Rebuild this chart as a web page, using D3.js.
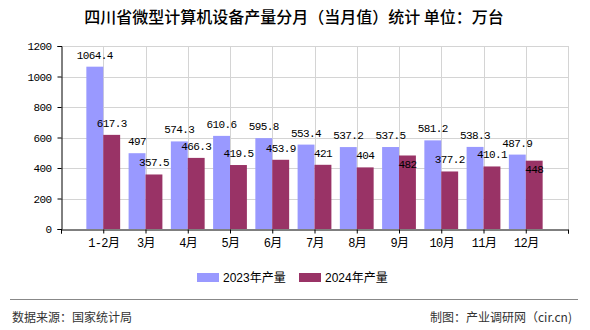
<!DOCTYPE html>
<html>
<head>
<meta charset="utf-8">
<script src="https://cdn.jsdelivr.net/npm/d3@7"></script>
<style>
  html, body { margin: 0; padding: 0; background: #fff; }
  svg { display: block; }
</style>
</head>
<body>
<div id="chart"></div>
<script>
// Monthly output, 10k units
const months = ["1-2月", "3月", "4月", "5月", "6月", "7月", "8月", "9月", "10月", "11月", "12月"];
const seriesNames = ["2023年产量", "2024年产量"];
const values2023 = [1064.4, 497, 574.3, 610.6, 595.8, 553.4, 537.2, 537.5, 581.2, 538.3, 487.9];
const values2024 = [617.3, 357.5, 466.3, 419.5, 453.9, 421, 404, 482, 377.2, 410.1, 448];
const yTicks = [0, 200, 400, 600, 800, 1000, 1200];
const colors = ["#9999FF", "#993366"];

const W = 590, H = 330;
const plot = { left: 61, right: 568, top: 46, bottom: 229 };
const monoFont = "'Liberation Mono', 'Noto Sans CJK SC', monospace";
const cjkFont = "'Noto Sans CJK SC', sans-serif";

const svg = d3.select("#chart").append("svg")
  .attr("width", W).attr("height", H);

// Title
svg.append("text")
  .attr("x", 294).attr("y", 23)
  .attr("text-anchor", "middle")
  .attr("font-family", cjkFont)
  .attr("font-size", 16)
  .attr("font-weight", 500)
  .attr("fill", "#000")
  .text("四川省微型计算机设备产量分月（当月值）统计 单位：万台");

// Scales: months sit on integer positions 1..11 of a 0..12 axis
const x = d3.scaleLinear().domain([0, months.length + 1]).range([plot.left, plot.right]);
const y = d3.scaleLinear().domain([0, 1200]).range([plot.bottom, plot.top]);
const step = x(1) - x(0);
const barW = step * 0.4;

// Grid
const grid = svg.append("g").attr("stroke", "#d4d4d4").attr("stroke-width", 1);
yTicks.filter(t => t > 0).forEach(t => {
  grid.append("line")
    .attr("x1", plot.left).attr("x2", plot.right)
    .attr("y1", Math.round(y(t)) + 0.5).attr("y2", Math.round(y(t)) + 0.5);
});
d3.range(1, months.length + 2).forEach(i => {
  grid.append("line")
    .attr("x1", Math.round(x(i)) + 0.5).attr("x2", Math.round(x(i)) + 0.5)
    .attr("y1", plot.top).attr("y2", plot.bottom);
});

// Bars
const seriesData = [values2023, values2024];
seriesData.forEach((vals, s) => {
  svg.append("g").selectAll("rect").data(vals).join("rect")
    .attr("x", (d, i) => s === 0 ? x(i + 1) - barW : x(i + 1))
    .attr("y", d => y(d))
    .attr("width", barW)
    .attr("height", d => y(0) - y(d))
    .attr("fill", colors[s]);
});

// Axes
const yAxis = d3.axisLeft(y).tickValues(yTicks).tickFormat(d3.format("d")).tickSize(4).tickPadding(6);
const gy = svg.append("g").attr("transform", `translate(${plot.left + 0.5},0)`).call(yAxis);
gy.select(".domain").attr("stroke", "#000");
gy.selectAll(".tick line").attr("stroke", "#000");
gy.selectAll(".tick text")
  .attr("font-family", monoFont).attr("font-size", 11)
  .attr("letter-spacing", "-0.6px").attr("fill", "#000");

const xAxis = d3.axisBottom(x)
  .tickValues(d3.range(0, months.length + 2))
  .tickSize(4).tickPadding(5)
  .tickFormat(i => (i >= 1 && i <= months.length) ? months[i - 1] : "");
const gx = svg.append("g").attr("transform", `translate(0,${plot.bottom + 0.5})`).call(xAxis);
gx.select(".domain").attr("stroke", "#000");
gx.selectAll(".tick line").attr("stroke", "#000");
gx.selectAll(".tick text")
  .attr("font-family", monoFont).attr("font-size", 12)
  .attr("letter-spacing", "-0.6px").attr("fill", "#000");

// Value labels; a 2024 label that would collide with its neighbour drops into the bar
const labelGap = 8;
const labels = svg.append("g")
  .attr("font-family", monoFont).attr("font-size", 11)
  .attr("letter-spacing", "-0.6px").attr("fill", "#000")
  .attr("text-anchor", "middle");
months.forEach((m, i) => {
  const a = values2023[i], b = values2024[i];
  const yA = y(a) - labelGap;
  let yB = y(b) - labelGap;
  if (Math.abs(yB - yA) < 12) yB = y(b) + 12.5;
  labels.append("text").attr("x", x(i + 1) - barW / 2).attr("y", yA).text(a);
  labels.append("text").attr("x", x(i + 1) + barW / 2).attr("y", yB).text(b);
});

// Legend
const legend = svg.append("g")
  .attr("font-family", "'Liberation Sans', 'Noto Sans CJK SC', sans-serif")
  .attr("font-size", 12).attr("fill", "#000");
const legendX = [197, 299];
seriesNames.forEach((name, s) => {
  legend.append("rect")
    .attr("x", legendX[s]).attr("y", 273).attr("width", 22).attr("height", 9)
    .attr("fill", colors[s]);
  legend.append("text")
    .attr("x", legendX[s] + 26).attr("y", 282)
    .text(name);
});

// Footer
svg.append("line")
  .attr("x1", 10).attr("x2", 578).attr("y1", 299.5).attr("y2", 299.5)
  .attr("stroke", "#888").attr("stroke-width", 1);
svg.append("text")
  .attr("x", 12).attr("y", 322)
  .attr("font-family", cjkFont).attr("font-size", 12).attr("fill", "#333")
  .text("数据来源：国家统计局");
svg.append("text")
  .attr("x", 572).attr("y", 322).attr("text-anchor", "end")
  .attr("font-family", cjkFont).attr("font-size", 12).attr("fill", "#333")
  .text("制图：产业调研网（cir.cn)");
</script>
</body>
</html>
